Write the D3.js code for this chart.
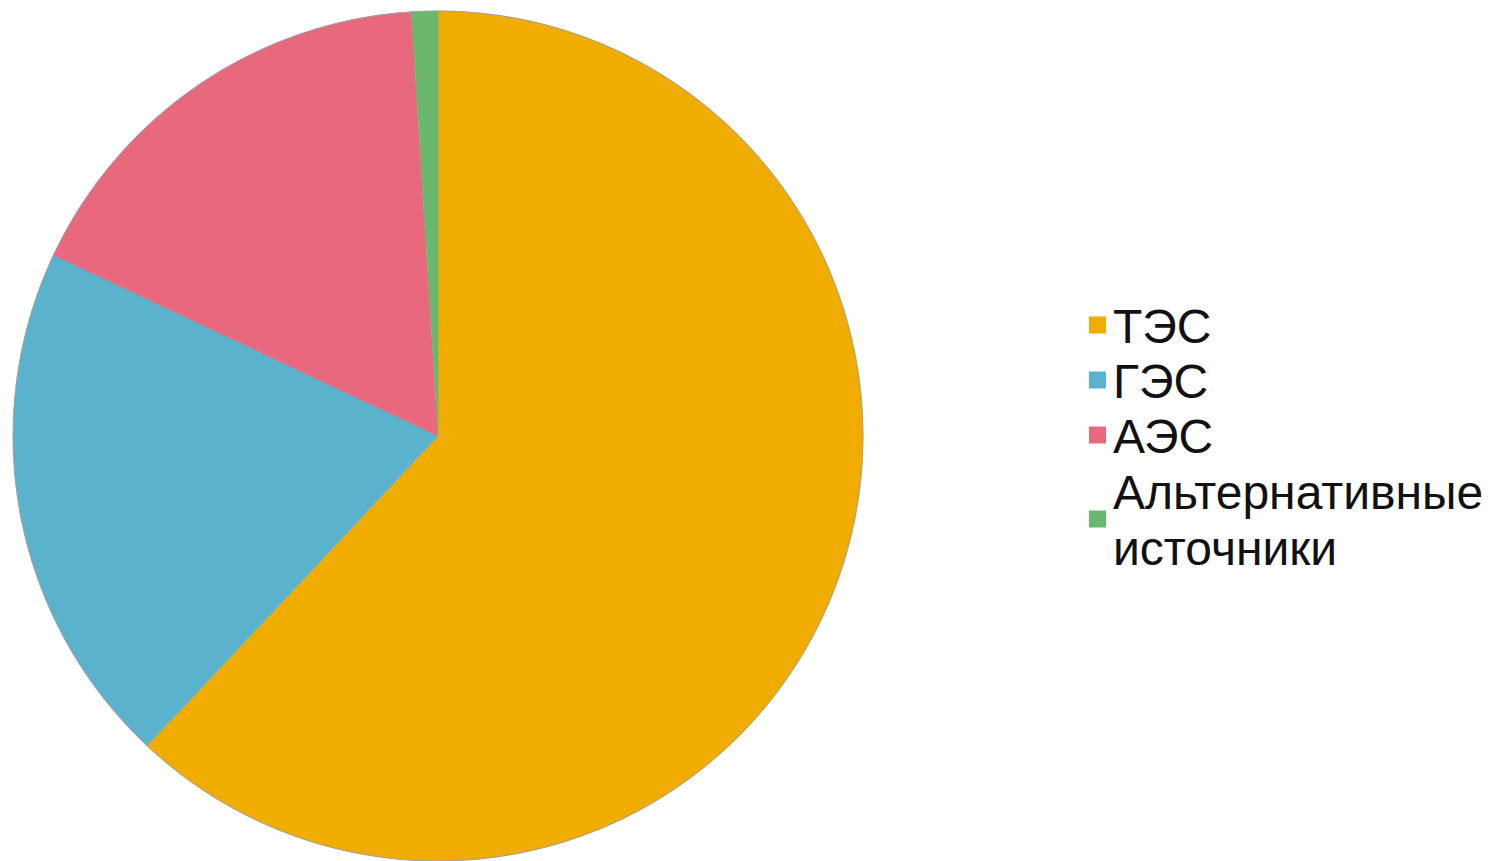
<!DOCTYPE html>
<html>
<head>
<meta charset="utf-8">
<script src="https://cdn.jsdelivr.net/npm/d3@7"></script>
<style>
  html, body { margin: 0; padding: 0; background: #fff; }
  svg { display: block; }
</style>
</head>
<body>
<svg id="chart" width="1503" height="861"></svg>
<script>
// --- Данные ---
const categories = ["ТЭС", "ГЭС", "АЭС", "Альтернативные источники"];
const values = [62, 20, 17, 1];
const legendLines = [["ТЭС"], ["ГЭС"], ["АЭС"], ["Альтернативные", "источники"]];
const colors = ["#F0AC00", "#5AB2CD", "#E8697E", "#6AB86E"];

const data = categories.map((c, i) => ({ name: c, value: values[i], lines: legendLines[i] }));

const svg = d3.select("#chart");

const cx = 438, cy = 436, radius = 425;

const color = d3.scaleOrdinal().domain(categories).range(colors);

const pie = d3.pie().sort(null).value(d => d.value);
const arc = d3.arc().innerRadius(0).outerRadius(radius);

// --- Круговая диаграмма ---
const g = svg.append("g").attr("transform", `translate(${cx},${cy})`);

g.selectAll("path")
  .data(pie(data))
  .enter().append("path")
    .attr("d", arc)
    .attr("fill", d => color(d.data.name))
    .attr("stroke", d => color(d.data.name))
    .attr("stroke-width", 0.5);

// тонкий серый контур
g.append("circle")
  .attr("r", radius)
  .attr("fill", "none")
  .attr("stroke", "#a0a0a0")
  .attr("stroke-width", 1);

// --- Легенда ---
const legend = svg.append("g").attr("transform", "translate(1089,0)");
const fontSize = 48, lineH = 56, sq = 17;
const rowCenters = [326, 381, 436, 520];

data.forEach((d, i) => {
  const yc = rowCenters[i];
  legend.append("rect")
    .attr("x", 0)
    .attr("y", yc - sq / 2 - 1)
    .attr("width", sq)
    .attr("height", sq)
    .attr("fill", color(d.name));

  const n = d.lines.length;
  const text = legend.append("text")
    .attr("x", 24)
    .style("font-family", "Liberation Sans, Arial, sans-serif")
    .style("font-size", fontSize + "px")
    .attr("fill", "#111");
  d.lines.forEach((line, j) => {
    text.append("tspan")
      .attr("x", 24)
      .attr("y", yc + 17 + (j - (n - 1) / 2) * lineH)
      .text(line);
  });
});
</script>
</body>
</html>
